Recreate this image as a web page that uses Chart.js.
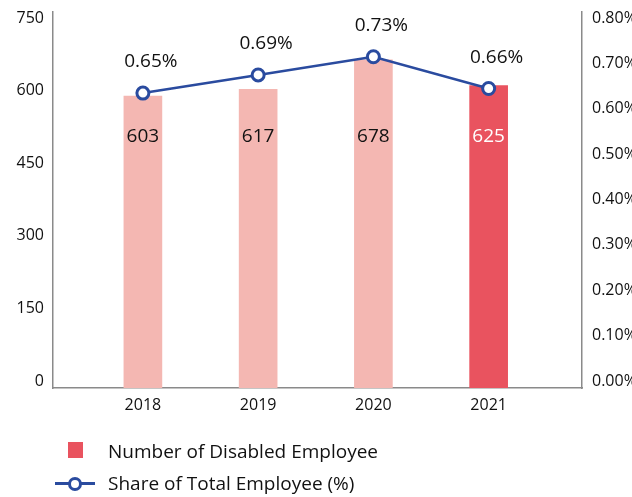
<!DOCTYPE html>
<html>
<head>
<meta charset="utf-8">
<script src="https://cdn.jsdelivr.net/npm/chart.js@4/dist/chart.umd.min.js"></script>
<style>
  body { margin: 0; background: #fff; font-family: "Open Sans", sans-serif; }
  #wrap { position: relative; width: 632px; height: 497px; }
  .legend { position: absolute; left: 0; font-size: 19px; color: #111; }
  .legend .txt { position: absolute; left: 108px; white-space: nowrap; line-height: 20px; }
</style>
</head>
<body>
<div id="wrap">
  <canvas id="chart"></canvas>
  <div class="legend" style="top:441px">
    <span style="position:absolute;left:68px;top:1px;width:15px;height:16px;background:#e9535f"></span>
    <span class="txt" style="top:0">Number of Disabled Employee</span>
  </div>
  <div class="legend" style="top:473px">
    <span style="position:absolute;left:55px;top:9px;width:40px;height:3px;background:#2a4b9f"></span>
    <span style="position:absolute;left:68px;top:4px;width:8px;height:8px;border:3px solid #2a4b9f;border-radius:50%;background:#fff"></span>
    <span class="txt" style="top:0">Share of Total Employee (%)</span>
  </div>
</div>
<script>
// data
const years = ['2018', '2019', '2020', '2021'];
const disabledEmployees = [603, 617, 678, 625];
const shareOfTotal = [0.65, 0.69, 0.73, 0.66];
const leftTicks = [0, 150, 300, 450, 600, 750];
const rightTicks = [0, 0.1, 0.2, 0.3, 0.4, 0.5, 0.6, 0.7, 0.8];

const barColors = ['#f4b7b2', '#f4b7b2', '#f4b7b2', '#e9535f'];
const axisColor = '#8a8a8a';

// simple value labels, drawn after datasets
const valueLabels = {
  id: 'valueLabels',
  afterDatasetsDraw(chart) {
    const ctx = chart.ctx;
    const yL = chart.scales.y;
    const labelY = yL.getPixelForValue(Math.min(...disabledEmployees)) + 40;
    ctx.save();
    ctx.font = '19px "Open Sans"';
    ctx.textAlign = 'center';
    ctx.textBaseline = 'middle';
    chart.getDatasetMeta(1).data.forEach((bar, i) => {
      ctx.fillStyle = i === 3 ? '#ffffff' : '#111111';
      ctx.fillText(disabledEmployees[i], bar.x, labelY);
    });
    ctx.fillStyle = '#111111';
    chart.getDatasetMeta(0).data.forEach((pt, i) => {
      ctx.fillText(shareOfTotal[i].toFixed(2) + '%', pt.x + 8, pt.y - 31);
    });
    ctx.restore();
  }
};

const leftMax = 776.9;
const rightMax = 0.8 * leftMax / 750;

// drop the automatic label padding so the layout padding alone sets the area
const noPad = s => { s.paddingTop = 0; s.paddingBottom = 0; };

new Chart(document.getElementById('chart'), {
  type: 'bar',
  data: {
    datasets: [
      {
        type: 'line',
        label: 'Share of Total Employee (%)',
        data: shareOfTotal.map((v, i) => ({ x: i, y: v })),
        yAxisID: 'y1',
        borderColor: '#2a4b9f',
        borderWidth: 2.5,
        pointRadius: 6,
        pointBorderWidth: 3,
        pointBackgroundColor: '#ffffff',
        pointBorderColor: '#2a4b9f',
        order: 0
      },
      {
        label: 'Number of Disabled Employee',
        data: disabledEmployees.map((v, i) => ({ x: i, y: v })),
        yAxisID: 'y',
        backgroundColor: barColors,
        barThickness: 38,
        order: 1
      }
    ]
  },
  options: {
    responsive: true,
    maintainAspectRatio: false,
    animation: false,
    layout: { padding: { top: 12, bottom: 79, left: 0, right: 0 } },
    plugins: { legend: { display: false }, tooltip: { enabled: false } },
    scales: {
      x: {
        type: 'linear',
        offset: false,
        min: -0.78,
        max: 3.81,
        afterBuildTicks: s => { s.ticks = years.map((_, i) => ({ value: i })); },
        afterFit: s => { s.height = 30; s.paddingLeft = 0; s.paddingRight = 0; },
        grid: { display: false, drawTicks: false },
        border: { color: axisColor, width: 1.5 },
        ticks: {
          padding: 8,
          color: '#111',
          font: { family: 'Open Sans', size: 16 },
          callback: v => years[v]
        }
      },
      y: {
        position: 'left',
        min: 0,
        max: leftMax,
        afterBuildTicks: s => { s.ticks = leftTicks.map(v => ({ value: v })); },
        afterFit: s => { s.width = 53; noPad(s); },
        grid: { display: false, drawTicks: false },
        border: { color: axisColor, width: 1.5 },
        ticks: {
          padding: 9,
          labelOffset: -7,
          color: '#111',
          font: { family: 'Open Sans', size: 16 }
        }
      },
      y1: {
        position: 'right',
        min: 0,
        max: rightMax,
        afterBuildTicks: s => { s.ticks = rightTicks.map(v => ({ value: v })); },
        afterFit: s => { s.width = 50; noPad(s); },
        grid: { display: false, drawTicks: false },
        border: { color: axisColor, width: 1.5 },
        ticks: {
          padding: 10,
          labelOffset: -7,
          color: '#111',
          font: { family: 'Open Sans', size: 16 },
          callback: v => v.toFixed(2) + '%'
        }
      }
    }
  },
  plugins: [valueLabels]
});
</script>
</body>
</html>
